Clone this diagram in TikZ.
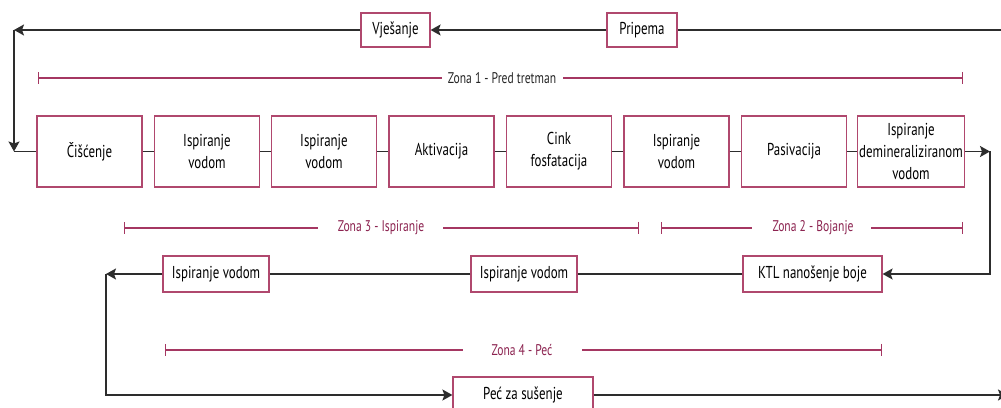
\documentclass[tikz,border=0pt]{standalone}
\usepackage{fontspec}
\setmainfont[FakeStretch=0.75]{PT Sans}
\usetikzlibrary{arrows.meta}
\definecolor{boxc}{RGB}{176,72,110}
\definecolor{zonec}{RGB}{165,55,98}
\definecolor{zonet}{RGB}{140,35,80}
\definecolor{linec}{RGB}{45,45,45}
\begin{document}
\begin{tikzpicture}[x=0.02cm,y=-0.02cm,
 proc/.style={draw=boxc, line width=0.7pt, fill=white, minimum width=2.1cm, minimum height=1.42cm, align=center, font=\fontsize{9.8}{12.5}\selectfont, inner sep=1pt},
 lab/.style={draw=boxc, line width=0.7pt, fill=white, minimum height=0.68cm, font=\fontsize{9.8}{11}\selectfont, inner sep=1pt},
 conn/.style={draw=linec, line width=0.85pt},
 arr/.style={conn, -{Stealth[length=0.2cm,width=0.22cm,inset=0.04cm]}},
 zline/.style={draw=zonec, line width=0.7pt},
 ztext/.style={font=\fontsize{8.8}{10}\selectfont, text=zonet, inner sep=0pt},
]
\useasboundingbox (0,0) rectangle (1001,408);
\fill[white] (0,0) rectangle (1001,408);

% top row
\node[lab, minimum width=1.4cm] (prip) at (642,30) {Pripema};
\node[lab, minimum width=1.38cm] (vjes) at (395.5,30) {Vješanje};

% process row
\node[proc] (c1) at (89.5,151.5) {Čišćenje};
\node[proc] (c2) at (207,151.5) {Ispiranje\\vodom};
\node[proc] (c3) at (324,151.5) {Ispiranje\\vodom};
\node[proc] (c4) at (441.5,151.5) {Aktivacija};
\node[proc] (c5) at (559,151.5) {Cink\\fosfatacija};
\node[proc] (c6) at (676.5,151.5) {Ispiranje\\vodom};
\node[proc] (c7) at (794,151.5) {Pasivacija};
\node[proc] (c8) at (911,151.5) {Ispiranje\\demineraliziranom\\vodom};

% second row
\node[lab, minimum width=2.78cm, minimum height=0.72cm] (ktl) at (812.5,274) {KTL nanošenje boje};
\node[lab, minimum width=2.12cm, minimum height=0.72cm] (mv2) at (524,274) {Ispiranje vodom};
\node[lab, minimum width=2.12cm, minimum height=0.72cm] (lv2) at (216,274) {Ispiranje vodom};

% bottom
\node[lab, minimum width=2.8cm, minimum height=0.72cm] (pec) at (523,395) {Peć za sušenje};

% coordinates
\coordinate (tr) at (1001,30);
\coordinate (tl) at (14,30);
\coordinate (cl) at (14,151.5);
\coordinate (cr) at (990,151.5);
\coordinate (ml) at (106,274);
\coordinate (br) at (1008,395);

% connectors
\draw[conn] (tr) -- (prip);
\draw[arr] (prip) -- (vjes);
\draw[arr] (vjes) -- (tl);
\draw[arr] (tl) -- (cl);
\draw[conn] (cl) -- (c1);
\draw[conn] (c1) -- (c2);
\draw[conn] (c2) -- (c3);
\draw[conn] (c3) -- (c4);
\draw[conn] (c4) -- (c5);
\draw[conn] (c5) -- (c6);
\draw[conn] (c6) -- (c7);
\draw[conn] (c7) -- (c8);
\draw[arr] (c8) -- (cr);
\draw[arr] (cr) |- (ktl);
\draw[conn] (ktl) -- (mv2);
\draw[conn] (mv2) -- (lv2);
\draw[arr] (lv2) -- (ml);
\draw[arr] (ml) |- (pec);
\draw[arr] (pec) -- (br);

% zones
\node[ztext, text=black!85] (z1) at (502,78) {Zona 1 - Pred tretman};
\coordinate (z1a) at (38,78); \coordinate (z1b) at (442,78);
\coordinate (z1c) at (563,78); \coordinate (z1d) at (963,78);
\draw[zline, {Bar[width=0.24cm]}-] (z1a) -- (z1b);
\draw[zline, -{Bar[width=0.24cm]}] (z1c) -- (z1d);

\node[ztext] (z3) at (381,228) {Zona 3 - Ispiranje};
\coordinate (z3a) at (124,228); \coordinate (z3b) at (318,228);
\coordinate (z3c) at (443,228); \coordinate (z3d) at (639,228);
\draw[zline, {Bar[width=0.24cm]}-] (z3a) -- (z3b);
\draw[zline, -{Bar[width=0.24cm]}] (z3c) -- (z3d);

\node[ztext] (z2) at (813,228) {Zona 2 - Bojanje};
\coordinate (z2a) at (661,228); \coordinate (z2b) at (752,228);
\coordinate (z2c) at (871,228); \coordinate (z2d) at (963,228);
\draw[zline, {Bar[width=0.24cm]}-] (z2a) -- (z2b);
\draw[zline, -{Bar[width=0.24cm]}] (z2c) -- (z2d);

\node[ztext] (z4) at (522,350) {Zona 4 - Peć};
\coordinate (z4a) at (165,350); \coordinate (z4b) at (463,350);
\coordinate (z4c) at (582,350); \coordinate (z4d) at (882,350);
\draw[zline, {Bar[width=0.24cm]}-] (z4a) -- (z4b);
\draw[zline, -{Bar[width=0.24cm]}] (z4c) -- (z4d);
\end{tikzpicture}
\end{document}
